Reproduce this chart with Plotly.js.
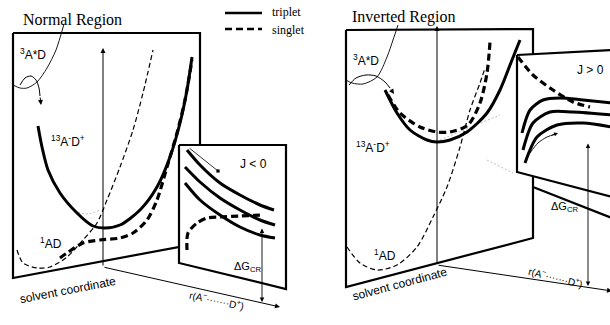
<!DOCTYPE html>
<html><head><meta charset="utf-8">
<script src="https://cdn.plot.ly/plotly-3.0.1.min.js"></script>
<style>html,body{margin:0;padding:0;background:#fff}#g{width:610px;height:325px}</style>
</head><body><div id="g"></div>
<script>
// ---------- Normal region (left) ----------
const normPlaneX = [13,200,200,13,13];
const normPlaneY = [33,33,243,278,33];
const normInsetX = [179,286,286,179,179];
const normInsetY = [145,145,289,263,145];
const normTripX = [38,42,48,60,77,93,105,120,140,157,170,180,187,192];
const normTripY = [126,147,170,193,213,226,228,225,210,187,157,123,90,57];
const normSingX = [60,67,83,100,120,133,147,157,167,177,185,192];
const normSingY = [258,253,243,240,238,233,220,200,167,133,100,60];
const normGroundX = [17,23,37,50,67,83,97,107,120,133,143,153];
const normGroundY = [250,263,268,267,257,240,223,200,167,130,93,50];
const normLocX = [13,20,27,37,47,56,64];
const normLocY = [85,88,88,82,68,50,24];
const normCurlX = [20,25,31,36,39,40];
const normCurlY = [85,78,76,80,88,96];
const normJ1X = [187,200,220,240,260,274], normJ1Y = [150,165,183,195,205,210];
const normJ2X = [185,200,220,240,260,275], normJ2Y = [167,182,198,210,220,225];
const normJ3X = [185,200,220,240,260,275], normJ3Y = [183,200,215,227,235,238];
const normJdX = [187,188,197,207,220,240,262], normJdY = [250,233,223,218,217,216,215];
const normFaintX = [78,88,100], normFaintY = [212,214,210];
// ---------- Inverted region (right) ----------
const invPlaneX = [346,533,533,346,346];
const invPlaneY = [30,29,238,287,30];
const invInsetX = [517,612,612,517,517];
const invInsetY = [55,50,197,172,55];
const invSlabX = [533,612], invSlabY = [187,218];
const invTripX = [385,397,410,427,437,450,467,487,500,512,520];
const invTripY = [90,113,130,140,142,140,132,113,90,60,40];
const invSingX = [388,400,420,437,450,468,480,487,490];
const invSingY = [95,113,127,132,132,125,103,73,42];
const invGroundX = [347,360,377,397,417,433,447,460,470,480,485];
const invGroundY = [247,263,270,265,247,217,187,147,110,83,68];
const invLocX = [346,352,363,377,387,393,398];
const invLocY = [80,83,84,77,57,40,25];
const invCurlX = [349,356,366,376,385,390];
const invCurlY = [85,78,75,76,82,88];
const invJ1X = [522,530,543,560,583,612], invJ1Y = [133,110,100,98,100,103];
const invJ2X = [523,533,550,573,612], invJ2Y = [150,123,112,112,115];
const invJ3X = [525,537,557,583,612], invJ3Y = [163,137,125,123,127];
const invJdX = [518,533,553,573,590], invJdY = [57,75,90,102,107];
const invArrX = [530,538,547,556], invArrY = [153,143,137,134];
const invFaint1X = [440,500], invFaint1Y = [140,115];
const invFaint2X = [487,513], invFaint2Y = [160,173];
// legend
const legX = [225,262];
const legTripY = [13,13];
const legSingY = [29,29];

const K = '#000';
function ln(x,y,w,dash,opt){
  return Object.assign({x:x,y:y,mode:'lines',type:'scatter',hoverinfo:'skip',
    line:{color:K,width:w,dash:dash||'solid',shape:'spline',smoothing:0.8}},opt||{});
}
function poly(x,y){
  return {x:x,y:y,mode:'lines',type:'scatter',fill:'toself',fillcolor:'#fff',hoverinfo:'skip',
    line:{color:K,width:2.2}};
}
const thickDash = '7px,4px', thinDash = '5px,3px';
const faint = {line:{color:'#aaa',width:0.8,dash:'2px,2px'}};

const traces = [
  poly(normPlaneX,normPlaneY),
  ln(normLocX,normLocY,0.9),
  ln(normCurlX,normCurlY,1),
  ln(normFaintX,normFaintY,0.8,'2px,2px',{line:{color:'#aaa',width:0.8,dash:'2px,2px',shape:'spline'}}),
  ln(normGroundX,normGroundY,1.2,thinDash),
  ln(normSingX,normSingY,3.2,thickDash),
  ln(normTripX,normTripY,3),
  poly(normInsetX,normInsetY),
  ln(normJ1X,normJ1Y,3),
  ln(normJ2X,normJ2Y,3),
  ln(normJ3X,normJ3Y,3),
  ln(normJdX,normJdY,3.2,thickDash),
  poly(invPlaneX,invPlaneY),
  ln(invLocX,invLocY,0.9),
  ln(invCurlX,invCurlY,1),
  ln(invFaint1X,invFaint1Y,0.8,'2px,2px',faint),
  ln(invFaint2X,invFaint2Y,0.8,'2px,2px',faint),
  ln(invGroundX,invGroundY,1.2,thinDash),
  ln(invTripX,invTripY,3),
  ln(invSingX,invSingY,3.2,thickDash),
  poly(invInsetX,invInsetY),
  ln(invSlabX,invSlabY,2.2),
  ln(invJ1X,invJ1Y,3),
  ln(invJ2X,invJ2Y,3),
  ln(invJ3X,invJ3Y,3),
  ln(invJdX,invJdY,3.2,thickDash),
  ln(invArrX,invArrY,0.9),
  ln(legX,legTripY,2.5),
  ln(legX,legSingY,2.5,'7px,4px')
];

function arrow(x0,y0,x1,y1,opt){
  return Object.assign({xref:'x',yref:'y',axref:'x',ayref:'y',x:x1,y:y1,ax:x0,ay:y0,text:'',
    showarrow:true,arrowhead:2,arrowsize:1,arrowwidth:1,arrowcolor:K},opt||{});
}
function lab(t,x,y,size,fam,opt){
  return Object.assign({xref:'x',yref:'y',x:x,y:y,text:t,showarrow:false,
    font:{family:fam||'Liberation Sans, Arial, sans-serif',size:size||12,color:K}},opt||{});
}
const serif = 'Liberation Serif, Times New Roman, serif';
const ann = [
  // left axes
  arrow(103,267,103,48),
  arrow(103,267,280,307),
  arrow(262,227,262,302,{arrowside:'end+start',arrowwidth:0.9}),
  arrow(40,96,41,105),
  arrow(188,147,218,171,{arrowhead:7,arrowwidth:0.8}),
  // right axes
  arrow(437,265,437,26),
  arrow(437,265,612,291),
  arrow(588,142,588,286,{arrowside:'end+start',arrowwidth:0.9}),
  arrow(390,88,394,94),
  arrow(550,136,558,133,{arrowwidth:0.8}),
  // titles
  lab('Normal Region',72,20,16,serif),
  lab('Inverted Region',404,17,16,serif),
  lab('triplet',270,12,12,serif,{xanchor:'left'}),
  lab('singlet',270,30,12,serif,{xanchor:'left'}),
  // left labels
  lab('<sup>3</sup>A*D',33,54,12),
  lab('<sup>13</sup>A<sup>-</sup>D<sup>+</sup>',68,141,12),
  lab('<sup>1</sup>AD',51,243,12),
  lab('J &lt; 0',253,164,12),
  lab('ΔG<sub>CR</sub>',247,267,11),
  lab('solvent coordinate',68,290,12,null,{textangle:-11}),
  lab('r(A<sup>−</sup>·······D<sup>+</sup>)',216,300,10,null,{textangle:12}),
  // right labels
  lab('<sup>3</sup>A*D',366,60,12),
  lab('<sup>13</sup>A<sup>-</sup>D<sup>+</sup>',373,147,12),
  lab('<sup>1</sup>AD',385,255,12),
  lab('J &gt; 0',590,70,12),
  lab('ΔG<sub>CR</sub>',564,207,11),
  lab('solvent coordinate',400,284,12,null,{textangle:-15}),
  lab('r(A<sup>−</sup>·······D<sup>+</sup>)',555,277,10,null,{textangle:14})
];

const layout = {
  width:610,height:325,margin:{l:0,r:0,t:0,b:0},
  paper_bgcolor:'#fff',plot_bgcolor:'#fff',showlegend:false,
  xaxis:{range:[0,610],visible:false,fixedrange:true},
  yaxis:{range:[325,0],visible:false,fixedrange:true},
  annotations:ann
};
Plotly.newPlot('g',traces,layout,{staticPlot:true,displayModeBar:false});
</script></body></html>
